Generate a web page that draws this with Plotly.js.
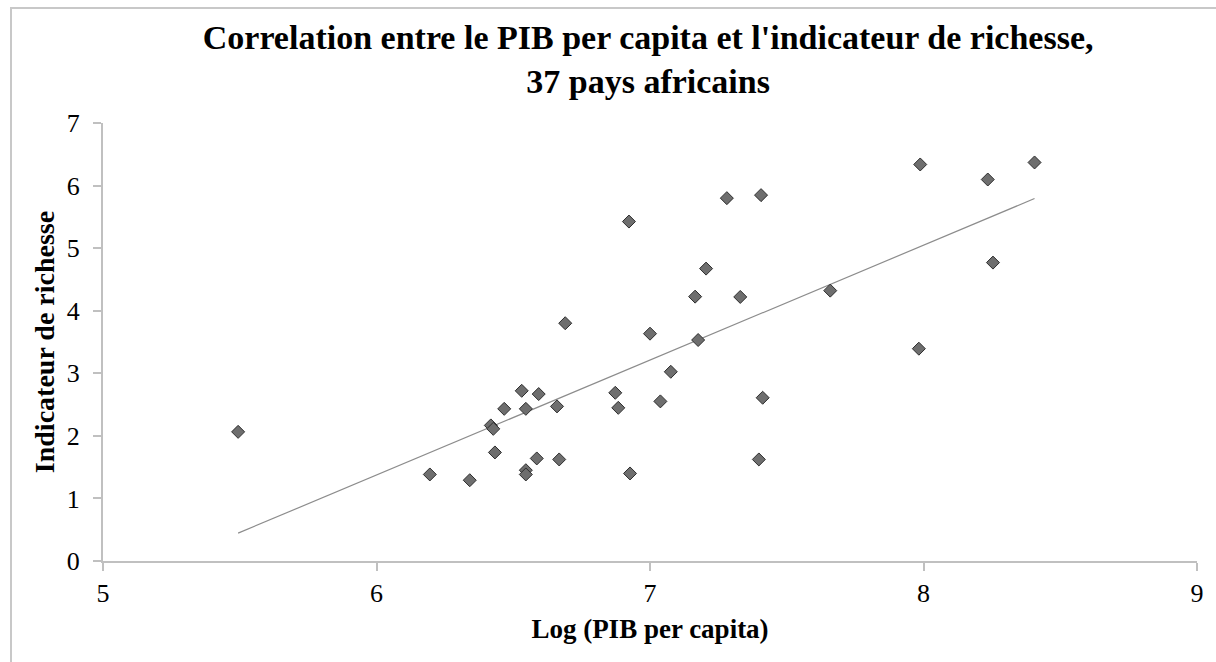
<!DOCTYPE html>
<html>
<head>
<meta charset="utf-8">
<script src="https://cdn.plot.ly/plotly-3.0.1.min.js"></script>
<style>
  html, body { margin: 0; padding: 0; background: #fff; }
  #wrap { position: relative; width: 1216px; height: 662px; overflow: hidden; }
  #chart { width: 1216px; height: 662px; }
  #frame { position: absolute; left: 10px; top: 7px; width: 1300px; height: 800px;
           border-left: 2px solid #c8c8c8; border-top: 2px solid #c8c8c8; pointer-events: none; }
</style>
</head>
<body>
<div id="wrap">
  <div id="chart"></div>
  <div id="frame"></div>
</div>
<script>
// Log (PIB per capita) — 37 African countries
const logPib = [
  5.494, 6.195, 6.341, 6.433, 6.418, 6.427, 6.467, 6.531, 6.546, 6.593,
  6.586, 6.546, 6.546, 6.668, 6.660, 6.873, 6.884, 6.927, 7.038, 7.076,
  6.923, 7.205, 7.165, 7.330, 7.659, 7.000, 7.176, 7.412, 7.398, 7.281,
  7.406, 7.988, 8.235, 8.406, 8.254, 7.983, 6.690
];
// Indicateur de richesse
const richesse = [
  2.064, 1.383, 1.291, 1.735, 2.167, 2.112, 2.432, 2.720, 2.432, 2.668,
  1.639, 1.451, 1.383, 1.623, 2.471, 2.688, 2.448, 1.399, 2.551, 3.024,
  5.425, 4.673, 4.225, 4.220, 4.321, 3.633, 3.532, 2.609, 1.623, 5.799,
  5.847, 6.337, 6.097, 6.369, 4.769, 3.393, 3.800
];
const xTicks = [5, 6, 7, 8, 9];
const yTicks = [0, 1, 2, 3, 4, 5, 6, 7];

// Linear trendline (least squares) computed from the data
const n = logPib.length;
const mx = logPib.reduce((a, b) => a + b, 0) / n;
const my = richesse.reduce((a, b) => a + b, 0) / n;
let sxy = 0, sxx = 0;
for (let i = 0; i < n; i++) {
  sxy += (logPib[i] - mx) * (richesse[i] - my);
  sxx += (logPib[i] - mx) * (logPib[i] - mx);
}
const slope = sxy / sxx;
const intercept = my - slope * mx;
const xMin = Math.min(...logPib), xMax = Math.max(...logPib);
const trendX = [xMin, xMax];
const trendY = trendX.map(v => intercept + slope * v);

const serif = 'Liberation Serif, Times New Roman, serif';

const traces = [
  {
    x: trendX, y: trendY, type: 'scatter', mode: 'lines',
    line: { color: '#8c8c8c', width: 1.2 }, hoverinfo: 'skip', showlegend: false
  },
  {
    x: logPib, y: richesse, type: 'scatter', mode: 'markers',
    marker: { symbol: 'diamond', size: 10, color: '#6e6e6e', line: { color: '#2e2e2e', width: 1 } },
    showlegend: false
  }
];

const layout = {
  width: 1216, height: 662,
  margin: { l: 103, r: 19, t: 123, b: 101, pad: 0 },
  paper_bgcolor: '#ffffff', plot_bgcolor: '#ffffff',
  font: { family: serif, color: '#000000', size: 24 },
  title: {
    text: '<b>Correlation entre le PIB per capita et l\'indicateur de richesse,<br>37 pays africains</b>',
    font: { family: serif, size: 34, color: '#000' },
    x: 0.533, xanchor: 'center', xref: 'container',
    y: 0.926, yanchor: 'middle', yref: 'container'
  },
  xaxis: {
    range: [5, 9], tickvals: xTicks, ticktext: xTicks.map(String),
    showgrid: false, zeroline: false,
    showline: true, linecolor: '#c0c0c0', linewidth: 2,
    ticks: 'outside', ticklen: 8, tickwidth: 2, tickcolor: '#c0c0c0',
    tickfont: { family: serif, size: 26, color: '#000' },
    title: { text: '<b>Log (PIB per capita)</b>', font: { family: serif, size: 27, color: '#000' }, standoff: 12 },
    fixedrange: true
  },
  yaxis: {
    range: [0, 7], tickvals: yTicks, ticktext: yTicks.map(String),
    showgrid: false, zeroline: false,
    showline: true, linecolor: '#c0c0c0', linewidth: 2,
    ticks: 'outside', ticklen: 8, tickwidth: 2, tickcolor: '#c0c0c0',
    ticklabelstandoff: 8,
    tickfont: { family: serif, size: 26, color: '#000' },
    title: { text: '<b>Indicateur de richesse</b>', font: { family: serif, size: 28, color: '#000' }, standoff: 4 },
    fixedrange: true
  },
  hovermode: false
};

Plotly.newPlot('chart', traces, layout, { displayModeBar: false, staticPlot: true });
</script>
</body>
</html>
